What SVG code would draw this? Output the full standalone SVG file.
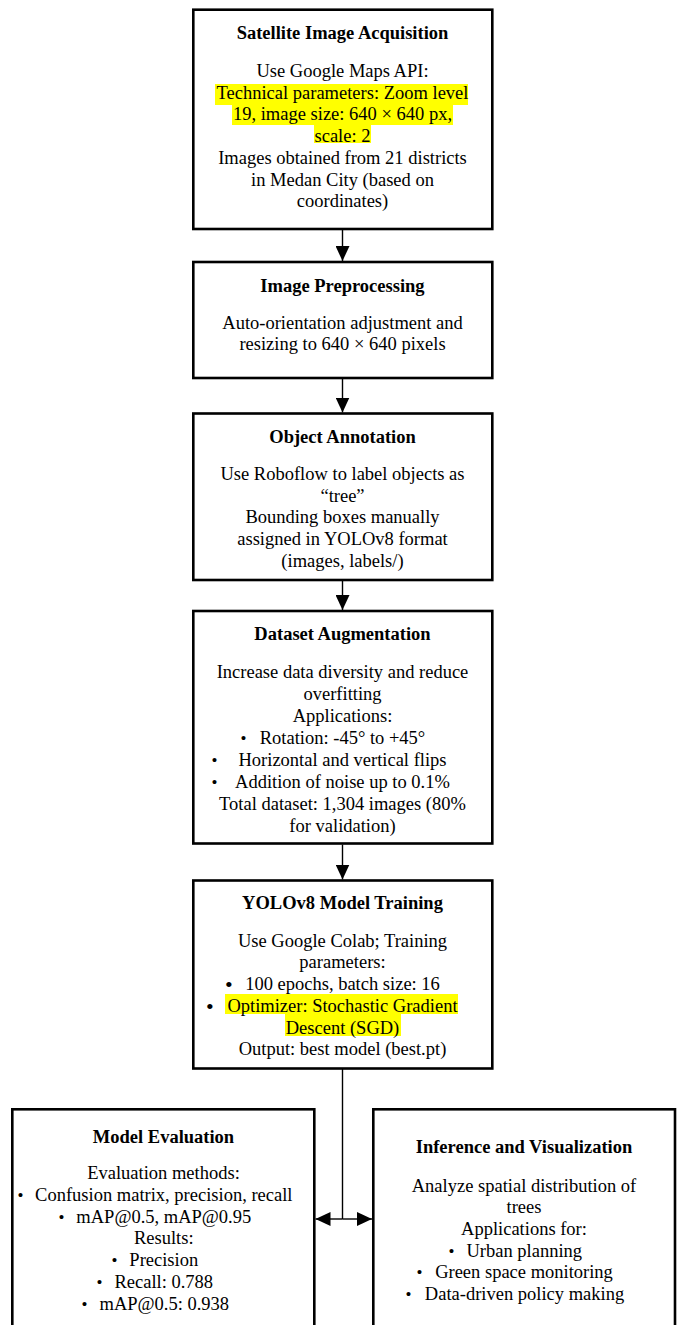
<svg xmlns="http://www.w3.org/2000/svg" width="678" height="1325" viewBox="0 0 678 1325">
<defs>
<style>
.box{fill:#fff;stroke:#000;stroke-width:2.6}
.t{font-family:"Liberation Serif","Times New Roman",serif;font-size:18.5px;fill:#000;text-anchor:middle}
.b{font-weight:bold}
.bl{font-family:"Liberation Serif","Times New Roman",serif;font-size:17px;fill:#000}
.bb{font-family:"Liberation Serif","Times New Roman",serif;font-size:22px;fill:#000}
.hl{fill:#ffff00}
.ln{stroke:#000;stroke-width:1.4;fill:none}
</style>
<marker id="ah" viewBox="0 0 15 14" refX="15" refY="7" markerWidth="15" markerHeight="14" markerUnits="userSpaceOnUse" orient="auto">
<path d="M0,0 L15,7 L0,14 Z" fill="#000"/>
</marker>
</defs>
<rect width="678" height="1325" fill="#fff"/>
<g id="connectors">
<line class="ln" x1="342.5" y1="230" x2="342.5" y2="261" marker-end="url(#ah)"/>
<line class="ln" x1="342.5" y1="379" x2="342.5" y2="412.5" marker-end="url(#ah)"/>
<line class="ln" x1="342.5" y1="581" x2="342.5" y2="610" marker-end="url(#ah)"/>
<line class="ln" x1="342.5" y1="844.5" x2="342.5" y2="879.5" marker-end="url(#ah)"/>
<line class="ln" x1="342.5" y1="1069" x2="342.5" y2="1219"/>
<line class="ln" x1="342.5" y1="1219" x2="315.5" y2="1219" marker-end="url(#ah)"/>
<line class="ln" x1="342.5" y1="1219" x2="372" y2="1219" marker-end="url(#ah)"/>
</g>
<g id="satellite-image-acquisition">
<rect class="box" x="193.3" y="9.7" width="299" height="219.3"/>
<rect class="hl" x="215" y="84" width="253" height="21"/>
<rect class="hl" x="232" y="105" width="221" height="20"/>
<rect class="hl" x="314" y="125" width="57" height="18"/>
<text class="t b" x="342.5" y="39">Satellite Image Acquisition</text>
<text class="t" x="342.5" y="77">Use Google Maps API:</text>
<text class="t" x="342.5" y="98.7">Technical parameters: Zoom level</text>
<text class="t" x="342.5" y="120.4">19, image size: 640 × 640 px,</text>
<text class="t" x="342.5" y="142.1">scale: 2</text>
<text class="t" x="342.5" y="163.8">Images obtained from 21 districts</text>
<text class="t" x="342.5" y="185.5">in Medan City (based on</text>
<text class="t" x="342.5" y="207.2">coordinates)</text>
</g>
<g id="image-preprocessing">
<rect class="box" x="193.3" y="262" width="299" height="116"/>
<text class="t b" x="342.5" y="291.7">Image Preprocessing</text>
<text class="t" x="342.5" y="328.5">Auto-orientation adjustment and</text>
<text class="t" x="342.5" y="350">resizing to 640 × 640 pixels</text>
</g>
<g id="object-annotation">
<rect class="box" x="193.3" y="413.5" width="299" height="166.5"/>
<text class="t b" x="342.5" y="442.7">Object Annotation</text>
<text class="t" x="342.5" y="480">Use Roboflow to label objects as</text>
<text class="t" x="342.5" y="501.7">“tree”</text>
<text class="t" x="342.5" y="523.4">Bounding boxes manually</text>
<text class="t" x="342.5" y="545.1">assigned in YOLOv8 format</text>
<text class="t" x="342.5" y="566.8">(images, labels/)</text>
</g>
<g id="dataset-augmentation">
<rect class="box" x="193.3" y="611" width="299" height="232.5"/>
<text class="t b" x="342.5" y="640">Dataset Augmentation</text>
<text class="t" x="342.5" y="677.6">Increase data diversity and reduce</text>
<text class="t" x="342.5" y="699.6">overfitting</text>
<text class="t" x="342.5" y="721.6">Applications:</text>
<text class="bl" x="240.5" y="743.6">•</text>
<text class="t" x="342.5" y="743.6">Rotation: -45° to +45°</text>
<text class="bl" x="211.5" y="765.6">•</text>
<text class="t" x="342.5" y="765.6">Horizontal and vertical flips</text>
<text class="bl" x="211.5" y="787.6">•</text>
<text class="t" x="342.5" y="787.6">Addition of noise up to 0.1%</text>
<text class="t" x="342.5" y="809.6">Total dataset: 1,304 images (80%</text>
<text class="t" x="342.5" y="831.6">for validation)</text>
</g>
<g id="yolov8-model-training">
<rect class="box" x="193.3" y="880.5" width="299" height="188"/>
<rect class="hl" x="225" y="994" width="233" height="20"/>
<rect class="hl" x="285" y="1014" width="116" height="22"/>
<text class="t b" x="342.5" y="909">YOLOv8 Model Training</text>
<text class="t" x="342.5" y="946.7">Use Google Colab; Training</text>
<text class="t" x="342.5" y="968.4">parameters:</text>
<text class="bb" x="225" y="992">•</text>
<text class="t" x="342.5" y="990.1">100 epochs, batch size: 16</text>
<text class="bb" x="206" y="1014">•</text>
<text class="t" x="342.5" y="1011.8">Optimizer: Stochastic Gradient</text>
<text class="t" x="342.5" y="1033.5">Descent (SGD)</text>
<text class="t" x="342.5" y="1055.2">Output: best model (best.pt)</text>
</g>
<g id="model-evaluation">
<rect class="box" x="12.3" y="1109.3" width="302" height="230"/>
<text class="t b" x="163.5" y="1142.7">Model Evaluation</text>
<text class="t" x="163.5" y="1179.3">Evaluation methods:</text>
<text class="bl" x="17.5" y="1201">•</text>
<text class="t" x="163.8" y="1201">Confusion matrix, precision, recall</text>
<text class="bl" x="58.5" y="1222.7">•</text>
<text class="t" x="163.8" y="1222.7">mAP@0.5, mAP@0.95</text>
<text class="t" x="163.8" y="1244.4">Results:</text>
<text class="bl" x="111.5" y="1266.1">•</text>
<text class="t" x="163.8" y="1266.1">Precision</text>
<text class="bl" x="96.5" y="1287.8">•</text>
<text class="t" x="163.8" y="1287.8">Recall: 0.788</text>
<text class="bl" x="81.5" y="1309.5">•</text>
<text class="t" x="164.3" y="1309.5">mAP@0.5: 0.938</text>
</g>
<g id="inference-and-visualization">
<rect class="box" x="373.3" y="1109.3" width="301.7" height="230"/>
<text class="t b" x="524" y="1153.3">Inference and Visualization</text>
<text class="t" x="524" y="1191.7">Analyze spatial distribution of</text>
<text class="t" x="524" y="1213.3">trees</text>
<text class="t" x="524" y="1235">Applications for:</text>
<text class="bl" x="448.5" y="1256.6">•</text>
<text class="t" x="524.3" y="1256.6">Urban planning</text>
<text class="bl" x="416.5" y="1278.3">•</text>
<text class="t" x="524" y="1278.3">Green space monitoring</text>
<text class="bl" x="405.5" y="1300">•</text>
<text class="t" x="524.5" y="1300">Data-driven policy making</text>
</g>
</svg>
